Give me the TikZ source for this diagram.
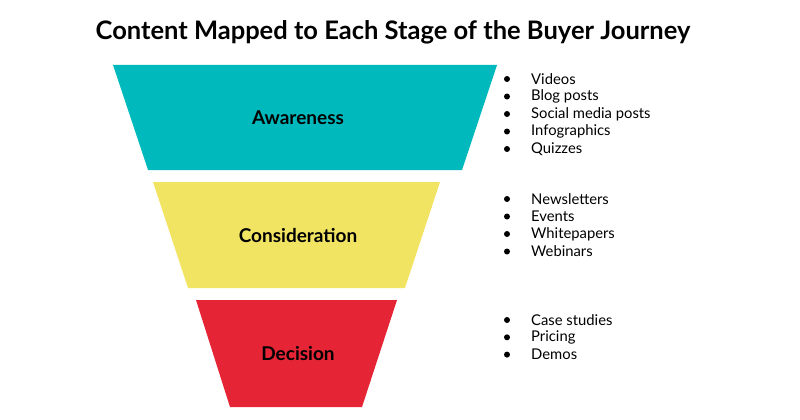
\documentclass[tikz,border=0pt]{standalone}
\usepackage{fontspec}
\setmainfont{Lato}
\usetikzlibrary{positioning}
\definecolor{awarecol}{HTML}{00B9BD}
\definecolor{considcol}{HTML}{F2E463}
\definecolor{decidecol}{HTML}{E52535}
\tikzset{
  stage/.style={font=\fontsize{19}{22}\selectfont\bfseries},
  item/.style={anchor=west, font=\fontsize{14.8}{17}\selectfont, inner sep=0pt},
  dot/.style={circle, fill=black, inner sep=0pt, minimum size=6pt}
}
\begin{document}
\begin{tikzpicture}[x=1pt,y=-1pt]
        \useasboundingbox (0,0) rectangle (800,420);
        % Title
        \node[font=\fontsize{25.5}{30}\selectfont\bfseries] (title) at (393,32) {Content Mapped to Each Stage of the Buyer Journey};

        % Funnel
        \fill[awarecol] (113,65) -- (497,65) -- (462,170) -- (148,170) -- cycle;
        \fill[considcol] (153,182) -- (440,182) -- (405,288) -- (188,288) -- cycle;
        \fill[decidecol] (196,300) -- (397,300) -- (362,407) -- (230,407) -- cycle;

        \node[stage] (aware) at (298,118) {Awareness};
        \node[stage] (consid) at (298,236) {Consideration};
        \node[stage] (decide) at (298,354) {Decision};

        % Content lists
        \foreach \t [count=\i] in {Videos, Blog posts, Social media posts, Infographics, Quizzes} {
          \node[dot] (ad\i) at (507,{79+17.5*(\i-1)}) {};
          \node[item] (a\i) at (531,{79+17.5*(\i-1)}) {\t};
        }
        \foreach \t [count=\i] in {Newsletters, Events, Whitepapers, Webinars} {
          \node[dot] (cd\i) at (507,{199+17.5*(\i-1)}) {};
          \node[item] (c\i) at (531,{199+17.5*(\i-1)}) {\t};
        }
        \foreach \t [count=\i] in {Case studies, Pricing, Demos} {
          \node[dot] (dd\i) at (507,{320+17.3*(\i-1)}) {};
          \node[item] (d\i) at (531,{320+17.3*(\i-1)}) {\t};
        }
\end{tikzpicture}
\end{document}
